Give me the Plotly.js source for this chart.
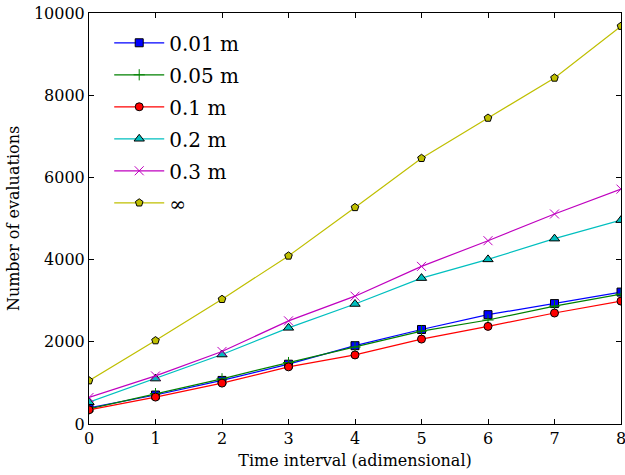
<!DOCTYPE html>
<html>
<head>
<meta charset="utf-8">
<script src="https://cdn.plot.ly/plotly-3.0.1.min.js"></script>
<style>html,body{margin:0;padding:0;background:#fff;}#chart{width:625px;height:475px;}</style>
</head>
<body>
<div id="chart"></div>
<script>
var timeInterval = [0, 1, 2, 3, 4, 5, 6, 7, 8];
var seriesNames = ['0.01 m', '0.05 m', '0.1 m', '0.2 m', '0.3 m', '\u221E'];
var evals001 = [390, 705, 1060, 1455, 1905, 2300, 2660, 2930, 3210];
var evals005 = [370, 740, 1100, 1495, 1870, 2260, 2530, 2870, 3160];
var evals01  = [345, 655, 995, 1390, 1680, 2066, 2375, 2700, 2990];
var evals02  = [530, 1105, 1690, 2340, 2920, 3550, 4005, 4510, 4960];
var evals03  = [645, 1170, 1765, 2510, 3110, 3835, 4460, 5110, 5715];
var evalsInf = [1055, 2030, 3035, 4090, 5270, 6465, 7445, 8420, 9680];

var allSeries = [evals001, evals005, evals01, evals02, evals03, evalsInf];
var colors = ['#0000ff', '#008000', '#ff0000', '#00bfbf', '#bf00bf', '#bfbf00'];
var symbols = ['square', 'cross-thin', 'circle', 'triangle-up', 'x-thin', 'pentagon'];
var sizes = [8, 8, 8, 9, 9, 8];

var traces = allSeries.map(function (vals, i) {
  var thin = (symbols[i] === 'cross-thin' || symbols[i] === 'x-thin');
  return {
    x: timeInterval,
    y: vals,
    name: seriesNames[i],
    legendgroup: 'g' + i,
    type: 'scatter',
    mode: 'lines+markers',
    line: {color: colors[i], width: 1.2},
    marker: {
      symbol: symbols[i],
      size: sizes[i],
      color: colors[i],
      line: {color: thin ? colors[i] : '#000000', width: 1}
    }
  };
});

var fontFam = 'DejaVu Serif, serif';
var layout = {
  width: 625,
  height: 475,
  margin: {l: 89, r: 4, t: 13, b: 51},
  paper_bgcolor: '#ffffff',
  plot_bgcolor: '#ffffff',
  font: {family: fontFam, size: 16, color: '#000000'},
  showlegend: true,
  legend: {
    x: 0.038, y: 0.975, xanchor: 'left', yanchor: 'top',
    bgcolor: 'rgba(0,0,0,0)',
    borderwidth: 0,
    itemwidth: 50,
    font: {family: fontFam, size: 20, color: '#000000'},
    tracegroupgap: 3,
    traceorder: 'grouped'
  },
  xaxis: {
    range: [0, 8],
    tickvals: timeInterval,
    ticktext: timeInterval.map(String),
    ticklabeloverflow: 'allow',
    ticks: 'inside', ticklen: 5, tickwidth: 1, tickcolor: '#000',
    showline: true, linecolor: '#000', linewidth: 1, mirror: 'ticks',
    showgrid: false, zeroline: false,
    title: {text: 'Time interval (adimensional)', font: {family: fontFam, size: 16}, standoff: 7},
    automargin: false
  },
  yaxis: {
    range: [0, 10000],
    tickvals: [0, 2000, 4000, 6000, 8000, 10000],
    ticktext: ['0', '2000', '4000', '6000', '8000', '10000'],
    ticklabeloverflow: 'allow',
    ticks: 'inside', ticklen: 5, tickwidth: 1, tickcolor: '#000',
    showline: true, linecolor: '#000', linewidth: 1, mirror: 'ticks',
    showgrid: false, zeroline: false,
    title: {text: 'Number of evaluations', font: {family: fontFam, size: 16}, standoff: 10},
    automargin: false
  }
};

Plotly.newPlot('chart', traces, layout, {staticPlot: true, displayModeBar: false});
</script>
</body>
</html>
